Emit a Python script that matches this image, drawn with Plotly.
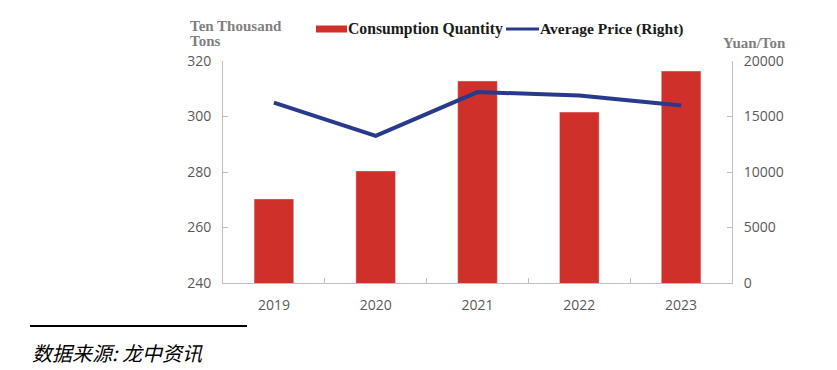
import plotly.graph_objects as go

years = ["2019", "2020", "2021", "2022", "2023"]
consumption = [270.3, 280.4, 312.8, 301.6, 316.4]
avg_price = [16250, 13250, 17200, 16900, 16000]

W, H = 837, 370
O = 8  # page body offset
L, R, T, B = 223 - O, 105 + O, 61 - O, 87 + O

bar_color = "#d0302a"
line_color = "#293a8c"
axis_color = "#bfbfbf"
tick_font = dict(family="Open Sans, Noto Sans, sans-serif", size=14, color="#595959")
serif = "Liberation Serif, DejaVu Serif, serif"

fig = go.Figure()
fig.add_trace(go.Bar(x=years, y=consumption, marker_color=bar_color, width=0.39,
                     name="Consumption Quantity", showlegend=False))
fig.add_trace(go.Scatter(x=years, y=avg_price, yaxis="y2", mode="lines",
                         line=dict(color=line_color, width=4),
                         name="Average Price (Right)", showlegend=False))

def px(x):
    return (x - O - L) / (W - L - R)

def py(y):
    return (H - B - (y - O)) / (H - T - B)

shapes = [
    dict(type="rect", xref="paper", yref="paper", x0=px(316), x1=px(347), y0=py(32.5), y1=py(25.5),
         fillcolor=bar_color, line=dict(width=0)),
    dict(type="line", xref="paper", yref="paper", x0=px(506), x1=px(539), y0=py(29), y1=py(29),
         line=dict(color=line_color, width=3)),
    dict(type="line", xref="paper", yref="paper", x0=px(30), x1=px(247), y0=py(326), y1=py(326),
         line=dict(color="black", width=2)),
]
annotations = [
    dict(text="<b>Consumption Quantity</b>", xref="paper", yref="paper", x=px(346), y=py(29),
         xanchor="left", yanchor="middle", showarrow=False,
         font=dict(family=serif, size=15.7, color="#1a1a1a")),
    dict(text="<b>Average Price (Right)</b>", xref="paper", yref="paper", x=px(538), y=py(29),
         xanchor="left", yanchor="middle", showarrow=False,
         font=dict(family=serif, size=15.5, color="#1a1a1a")),
    dict(text="<b>Ten Thousand</b>", xref="paper", yref="paper", x=px(188), y=py(26),
         xanchor="left", yanchor="middle", showarrow=False,
         font=dict(family=serif, size=15, color="#7f7f7f")),
    dict(text="<b>Tons</b>", xref="paper", yref="paper", x=px(188), y=py(41.5),
         xanchor="left", yanchor="middle", showarrow=False,
         font=dict(family=serif, size=15, color="#7f7f7f")),
    dict(text="<b>Yuan/Ton</b>", xref="paper", yref="paper", x=px(721), y=py(43),
         xanchor="left", yanchor="middle", showarrow=False,
         font=dict(family=serif, size=15, color="#7f7f7f")),
    dict(text="<i>数据来源: 龙中资讯</i>", xref="paper", yref="paper", x=px(30), y=py(352),
         xanchor="left", yanchor="middle", showarrow=False,
         font=dict(family="Noto Sans CJK SC, sans-serif", size=20, color="black")),
]

fig.update_layout(
    width=W, height=H,
    margin=dict(l=L, r=R, t=T, b=B),
    plot_bgcolor="white", paper_bgcolor="white",
    shapes=shapes, annotations=annotations,
    xaxis=dict(showline=True, linecolor=axis_color, linewidth=1, ticks="inside",
               ticklen=5, tickcolor=axis_color, tickson="boundaries",
               tickfont=tick_font, showgrid=False, ticklabelstandoff=9),
    yaxis=dict(range=[240, 320], dtick=20, showline=True, linecolor=axis_color,
               ticks="inside", ticklen=5, tickcolor=axis_color, showgrid=False,
               zeroline=False, tickfont=tick_font, ticklabelstandoff=8),
    yaxis2=dict(range=[0, 20000], dtick=5000, overlaying="y", side="right",
                showline=True, linecolor=axis_color, ticks="inside", ticklen=5,
                tickcolor=axis_color, showgrid=False, zeroline=False, tickfont=tick_font,
                ticklabelstandoff=8, tickformat="d"),
)

fig.write_html("out.html")
